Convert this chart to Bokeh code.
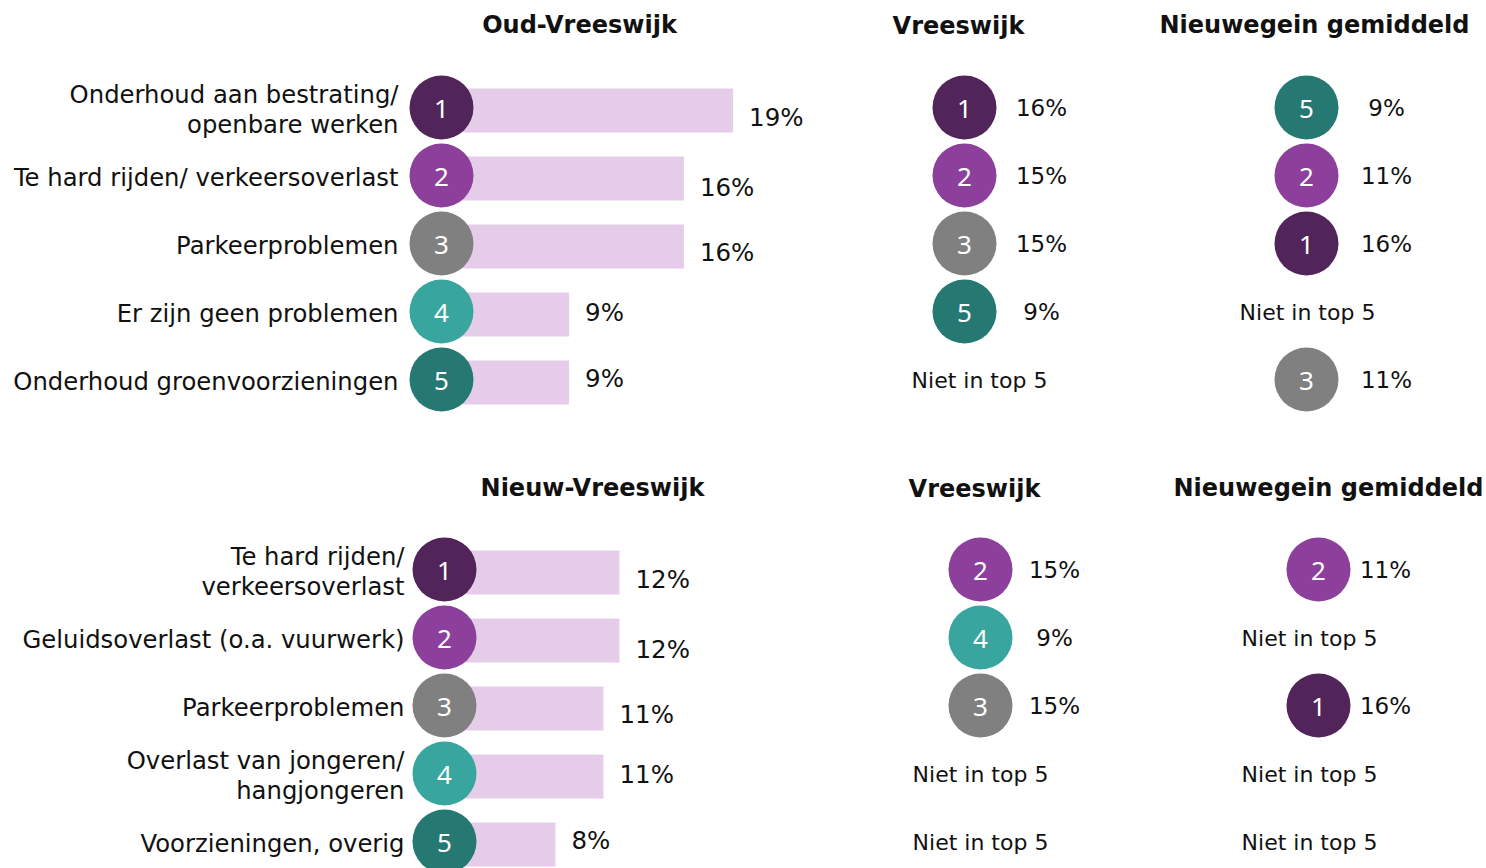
from bokeh.plotting import figure
from bokeh.models import Range1d
from bokeh.core.properties import value
from bokeh.embed import file_html
from bokeh.resources import INLINE

W, H = 1486, 868
FONT = "DejaVu Sans"
NUM_FONT = "Noto Sans"

RANK_COLORS = {1: "#52255a", 2: "#8c3f9b", 3: "#808080", 4: "#38a69f", 5: "#267873"}
BAR_COLOR = "#e5cde9"
TEXT_COLOR = "#111111"

# ---- data: Oud-Vreeswijk top 5 ----
top_title = "Oud-Vreeswijk"
top_categories = [
    "Onderhoud aan bestrating/\nopenbare werken",
    "Te hard rijden/ verkeersoverlast",
    "Parkeerproblemen",
    "Er zijn geen problemen",
    "Onderhoud groenvoorzieningen",
]
top_share = [19, 16, 16, 9, 9]
top_vw_rank = [1, 2, 3, 5, None]
top_vw_share = [16, 15, 15, 9, None]
top_nw_rank = [5, 2, 1, None, 3]
top_nw_share = [9, 11, 16, None, 11]

# ---- data: Nieuw-Vreeswijk top 5 ----
bot_title = "Nieuw-Vreeswijk"
bot_categories = [
    "Te hard rijden/\nverkeersoverlast",
    "Geluidsoverlast (o.a. vuurwerk)",
    "Parkeerproblemen",
    "Overlast van jongeren/\nhangjongeren",
    "Voorzieningen, overig",
]
bot_share = [12, 12, 11, 11, 8]
bot_vw_rank = [2, 4, 3, None, None]
bot_vw_share = [15, 9, 15, None, None]
bot_nw_rank = [2, None, 1, None, None]
bot_nw_share = [11, None, 16, None, None]

compare_titles = ["Vreeswijk", "Nieuwegein gemiddeld"]
not_in_top = "Niet in top 5"

# vertical nudge of the value labels next to the bars, per row
LABEL_NUDGE = [10, 12, 9, 1, -1]

p = figure(width=W, height=H, x_range=Range1d(0, W), y_range=Range1d(H, 0),
           output_backend="svg", toolbar_location=None,
           x_axis_location=None, y_axis_location=None,
           min_border=0, outline_line_color=None)
p.xgrid.visible = False
p.ygrid.visible = False

# percentage scales for the bar panels (0% sits just under the rank badges)
p.extra_x_ranges = {
    "pct_top": Range1d(-421 / 16.4, (W - 421) / 16.4),
    "pct_bot": Range1d(-427 / 16.0, (W - 427) / 16.0),
}


def badge(x, y, rank):
    p.scatter([x], [y], marker="circle", size=64, fill_color=RANK_COLORS[rank],
              line_color=None)
    p.text([x], [y + 1], text=[str(rank)], text_color="white",
           text_font=value(NUM_FONT), text_font_size="26px",
           text_align="center", text_baseline="middle")


def label(x, y, txt, size="24.3px", align="left", bold=False, font=FONT):
    p.text([x], [y], text=[txt], text_color=TEXT_COLOR, text_font=value(font),
           text_font_size=size, text_align=align, text_baseline="middle",
           text_font_style="bold" if bold else "normal", text_line_height=1.05)


def panel(title, cats, share, vw_rank, vw_share, nw_rank, nw_share,
          y0, title_y, pct_range, label_right, badge_x, title_x,
          vw_x, vw_title_x, vw_note_x, vw_off, nw_x, nw_title_x, nw_note_x, nw_off):
    step = 68
    rows = [y0 + i * step for i in range(len(cats))]

    label(title_x, title_y, title, size="24px", align="center", bold=True)
    label(vw_title_x, title_y + 1, compare_titles[0], size="24px", align="center", bold=True)
    label(nw_title_x, title_y, compare_titles[1], size="24px", align="center", bold=True)

    # bars
    p.hbar(y=[r + 3 for r in rows], left=0, right=share, height=44,
           fill_color=BAR_COLOR, line_color=None, x_range_name=pct_range)
    p.text(x=share, y=[r + n for r, n in zip(rows, LABEL_NUDGE)],
           text=[f"{s}%" for s in share],
           x_offset=16, text_color=TEXT_COLOR, text_font=value(FONT),
           text_font_size="24.5px", text_baseline="middle", x_range_name=pct_range)

    for i, (r, cat) in enumerate(zip(rows, cats)):
        label(label_right, r + 2, cat, align="right")
        badge(badge_x, r, i + 1)

    for ranks, shares, cx, note_x, off in ((vw_rank, vw_share, vw_x, vw_note_x, vw_off),
                                           (nw_rank, nw_share, nw_x, nw_note_x, nw_off)):
        for r, rk, sh in zip(rows, ranks, shares):
            if rk is None:
                label(note_x, r + 1, not_in_top, size="22px", align="center")
            else:
                badge(cx, r, rk)
                label(cx + off, r, f"{sh}%", size="23px", align="center")


panel(top_title, top_categories, top_share, top_vw_rank, top_vw_share,
      top_nw_rank, top_nw_share, y0=107, title_y=24, pct_range="pct_top",
      label_right=398, badge_x=441, title_x=579,
      vw_x=964, vw_title_x=958, vw_note_x=979, vw_off=77,
      nw_x=1306, nw_title_x=1314, nw_note_x=1307, nw_off=80)

panel(bot_title, bot_categories, bot_share, bot_vw_rank, bot_vw_share,
      bot_nw_rank, bot_nw_share, y0=569, title_y=487, pct_range="pct_bot",
      label_right=404, badge_x=444, title_x=592,
      vw_x=980, vw_title_x=974, vw_note_x=980, vw_off=74,
      nw_x=1318, nw_title_x=1328, nw_note_x=1309, nw_off=67)

open("out.html", "w").write(file_html(p, INLINE))
